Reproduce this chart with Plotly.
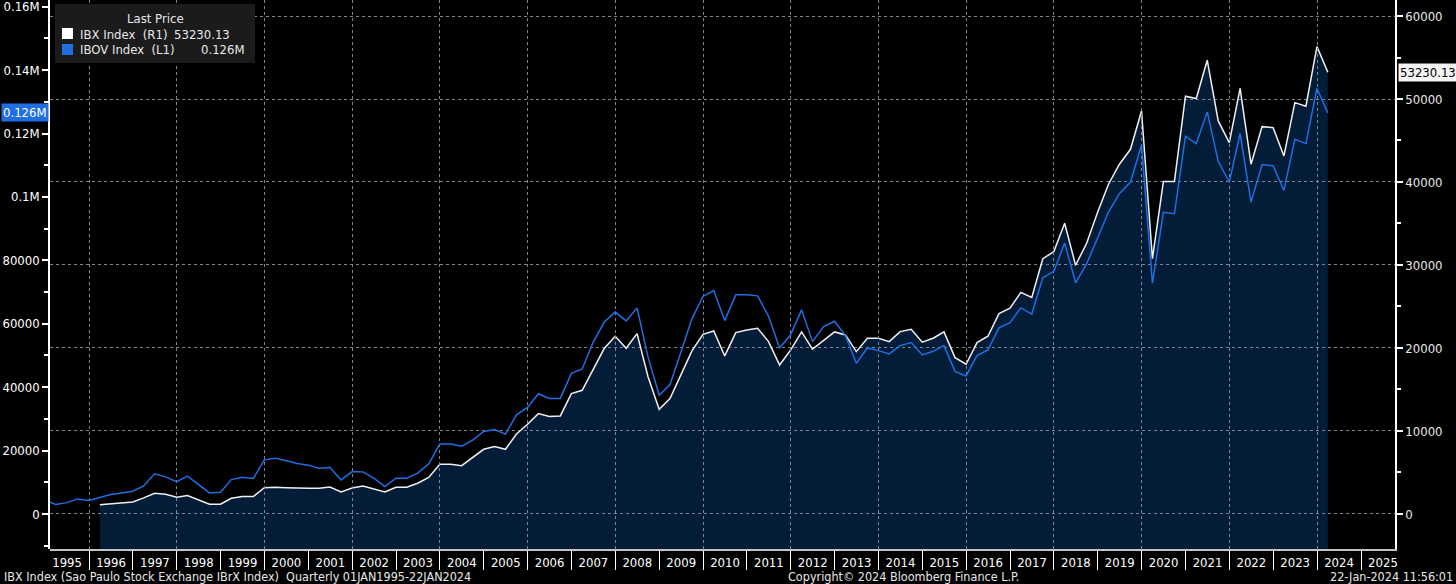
import pandas as pd
import plotly.graph_objects as go

# ---------------- data ----------------
ibov_start_date = ["1995-01-02"]
ibov_values = [
    4350,
    2950, 3570, 4740, 4250,        # 1995
    5150, 6100, 6640, 7170,        # 1996
    8850, 12640, 11690, 10210,     # 1997
    11910, 9260, 6640, 6860,       # 1998
    10840, 11600, 11160, 17060,    # 1999
    17600, 16750, 15900, 15390,    # 2000
    14440, 14630, 10740, 13370,    # 2001
    13270, 11280, 8630, 11280,     # 2002
    11280, 12860, 15800, 22030,    # 2003
    22030, 21390, 23290, 26010,    # 2004
    26640, 25190, 31280, 33590,    # 2005
    37920, 36440, 36440, 44340,    # 2006
    45730, 54130, 60450, 63740,    # 2007
    60890, 65000, 49390, 37510,    # 2008
    40760, 50970, 61530, 68670,    # 2009
    70470, 60990, 69110, 69110,    # 2010
    68790, 62350, 52360, 56500,    # 2011
    64370, 54350, 59090, 60770,    # 2012
    56250, 47500, 52360, 51510,    # 2013
    50470, 53090, 54040, 50150,    # 2014
    51290, 53090, 44970, 43510,    # 2015
    49930, 51730, 58700, 60300,    # 2016
    65000, 63050, 74480, 76520,    # 2017
    85430, 72900, 78900, 87110,    # 2018
    95220, 101010, 104700, 116290, # 2019
    72780, 95120, 94690, 119130,   # 2020
    116820, 126800, 111230, 104700,# 2021
    119990, 98370, 110180, 109760, # 2022
    102070, 118180, 116820, 134200,# 2023
    126500,                        # 2024 (22 Jan)
]
ibx_values = [
    1120, 1240, 1290, 1450,        # 1996
    1930, 2490, 2370, 2010,        # 1997
    2210, 1650, 1170, 1170,        # 1998
    1890, 2090, 2090, 3170,        # 1999
    3220, 3170, 3090, 3090,        # 2000
    3090, 3250, 2650, 3130,        # 2001
    3370, 3050, 2650, 3220,        # 2002
    3230, 3700, 4400, 5990,        # 2003
    5990, 5820, 6790, 7790,        # 2004
    8110, 7790, 9640, 10810,       # 2005
    12090, 11730, 11810, 14500,    # 2006
    14900, 17440, 19930, 21410,    # 2007
    19970, 21730, 16510, 12610,    # 2008
    13900, 16750, 19640, 21650,    # 2009
    22050, 19040, 21850, 22170,    # 2010
    22370, 20760, 17950, 19750,    # 2011
    21930, 19850, 20930, 21930,    # 2012
    21570, 19560, 21170, 21170,    # 2013
    20760, 21970, 22260, 20690,    # 2014
    21170, 21930, 18830, 18040,    # 2015
    20640, 21410, 24140, 24790,    # 2016
    26700, 26100, 30760, 31610,    # 2017
    35030, 29970, 32620, 36390,    # 2018
    39730, 42140, 43940, 48560,    # 2019
    30760, 40050, 40050, 50330,    # 2020
    50050, 54670, 47360, 44740,    # 2021
    51290, 42140, 46670, 46550,    # 2022
    43140, 49560, 49130, 56310,    # 2023
    53230.13,                      # 2024 (22 Jan)
]
left_tick_vals = [0, 20000, 40000, 60000, 80000, 100000, 120000, 140000, 160000]
left_tick_text = ["0", "20000", "40000", "60000", "80000", "0.1M", "0.12M", "0.14M", "0.16M"]
ibx_last_label = "53230.13"
ibov_last_label = "0.126M"

ibov_dates = pd.to_datetime(ibov_start_date).append(
    pd.date_range("1995-03-31", "2024-03-31", freq="QE"))
ibx_dates = pd.date_range("1996-03-31", "2024-03-31", freq="QE")

# ---------------- style ----------------
FONT = "Liberation Sans Narrow, DejaVu Sans Condensed, Arial Narrow, Roboto, sans-serif"
W, H = 1456, 584
ML, MR, MT, MB = 50, 61, 0, 35
PW, PH = W - ML - MR, H - MT - MB
NAVY = "#031c38"
BLUE = "#1f6fe2"
WHITE = "#f0f0f0"
GRID = "#7d8590"
TXT = "#e8e8e8"

X_RANGE = ["1995-02-10", "2025-10-11"]
R_RANGE = [-4225, 61929]      # right axis (IBX)
L_RANGE = [-11060, 162108]    # left axis (IBOV)


def px(x):
    return (x - ML) / PW


def py(y):
    return (MT + PH - y) / PH


fig = go.Figure()

# subplot 1: filled area under IBX down to bottom of the plot
fig.add_trace(go.Scatter(x=ibx_dates, y=[R_RANGE[0]] * len(ibx_dates), mode="lines",
                         line=dict(width=0), hoverinfo="skip", showlegend=False,
                         xaxis="x", yaxis="y"))
fig.add_trace(go.Scatter(x=ibx_dates, y=ibx_values, mode="lines", line=dict(width=0),
                         fill="tonexty", fillcolor=NAVY, hoverinfo="skip",
                         showlegend=False, xaxis="x", yaxis="y"))
# subplot 2: IBX line (right axis)
fig.add_trace(go.Scatter(x=ibx_dates, y=ibx_values, mode="lines", name="IBX Index (R1)",
                         line=dict(color=WHITE, width=1.5), showlegend=False,
                         xaxis="x2", yaxis="y2"))
# subplot 3: IBOV line (left axis)
fig.add_trace(go.Scatter(x=ibov_dates, y=ibov_values, mode="lines", name="IBOV Index (L1)",
                         line=dict(color=BLUE, width=1.5), showlegend=False,
                         xaxis="x3", yaxis="y3"))

hidden = dict(visible=False, showgrid=False, zeroline=False, automargin=False)
fig.update_layout(
    width=W, height=H,
    margin=dict(l=ML, r=MR, t=MT, b=MB, pad=0, autoexpand=False),
    paper_bgcolor="black", plot_bgcolor="rgba(0,0,0,0)",
    font=dict(family=FONT, color=TXT, size=13),
    hovermode=False,
    showlegend=False,
    xaxis=dict(type="date", range=X_RANGE, anchor="y", **hidden),
    yaxis=dict(range=R_RANGE, anchor="x", **hidden),
    xaxis2=dict(type="date", range=X_RANGE, anchor="y2", showgrid=False, zeroline=False,
                automargin=False,
                dtick="M12", tick0="1995-01-01", tickformat="%Y", ticklabelmode="period",
                ticks="outside", ticklen=19, tickwidth=1, tickcolor="white",
                ticklabelstandoff=-19,
                showline=True, linecolor="#c4c4c4", linewidth=2,
                tickfont=dict(size=13, color="white", family=FONT)),
    yaxis2=dict(range=R_RANGE, anchor="x2", side="right", zeroline=False, automargin=False,
                tickmode="linear", tick0=0, dtick=10000, tickformat="d",
                ticklabeloverflow="allow",
                showgrid=True, gridcolor=GRID, griddash="dot", gridwidth=1,
                ticks="outside", ticklen=6, tickwidth=2, tickcolor="white",
                showline=True, linecolor="white", linewidth=1.5,
                minor=dict(dtick=5000, ticks="outside", ticklen=4, tickcolor="white",
                           showgrid=False),
                tickfont=dict(size=13, color=TXT, family=FONT)),
    xaxis3=dict(type="date", range=X_RANGE, anchor="y3", zeroline=False, automargin=False,
                dtick="M24", tick0="1996-01-01", showticklabels=False, ticks="",
                showline=False, showgrid=True, gridcolor=GRID, griddash="dot", gridwidth=1),
    yaxis3=dict(range=L_RANGE, anchor="x3", side="left", zeroline=False, showgrid=False,
                automargin=False, ticklabeloverflow="allow",
                tickmode="array", tickvals=left_tick_vals, ticktext=left_tick_text,
                ticks="outside", ticklen=6, tickwidth=2, tickcolor="white",
                showline=True, linecolor="white", linewidth=1.5,
                minor=dict(tickvals=list(range(-10000, 170000, 10000)), ticks="outside",
                           ticklen=4, tickcolor="white", showgrid=False),
                tickfont=dict(size=13, color="white", family=FONT)),
)

# legend box (manual, Bloomberg style)
shapes = [
    dict(type="rect", xref="paper", yref="paper", x0=px(55), x1=px(255), y0=py(63), y1=py(4),
         fillcolor="#1b1b1b", line=dict(width=0), layer="above"),
    dict(type="rect", xref="paper", yref="paper", x0=px(62), x1=px(73), y0=py(39), y1=py(28),
         fillcolor="white", line=dict(width=0), layer="above"),
    dict(type="rect", xref="paper", yref="paper", x0=px(62), x1=px(73), y0=py(55), y1=py(44),
         fillcolor=BLUE, line=dict(width=0), layer="above"),
]
fig.update_layout(shapes=shapes)

ann = [
    dict(text="Last Price", x=px(155), y=py(19), xanchor="center"),
    dict(text="IBX Index\u00a0\u00a0(R1)", x=px(78), y=py(34), xanchor="left"),
    dict(text=ibx_last_label, x=px(232), y=py(34), xanchor="right"),
    dict(text="IBOV Index\u00a0\u00a0(L1)", x=px(78), y=py(50), xanchor="left"),
    dict(text=ibov_last_label, x=px(247), y=py(50), xanchor="right"),
    dict(text="IBX Index (Sao Paulo Stock Exchange IBrX Index)\u00a0\u00a0Quarterly 01JAN1995-22JAN2024",
         x=px(2), y=py(576), xanchor="left", size=12.5),
    dict(text="Copyright\u00a9 2024 Bloomberg Finance L.P.", x=px(903), y=py(576),
         xanchor="center", size=12.5),
    dict(text="22-Jan-2024 11:56:01", x=px(1455), y=py(576), xanchor="right", size=12.5),
]
for a in ann:
    size = a.pop("size", 13)
    fig.add_annotation(xref="paper", yref="paper", yanchor="middle", showarrow=False,
                       font=dict(family=FONT, size=size, color=TXT), **a)

# last value tags on the axes
fig.add_annotation(xref="paper", yref="y2", x=1, y=ibx_values[-1], xanchor="left",
                   yanchor="middle", xshift=3, showarrow=False, text=ibx_last_label,
                   bgcolor="#f4f4f4", borderpad=1,
                   font=dict(family=FONT, size=13, color="black"))
fig.add_annotation(xref="paper", yref="y3", x=0, y=ibov_values[-1], xanchor="right",
                   yanchor="middle", xshift=-1, showarrow=False, text=ibov_last_label,
                   bgcolor=BLUE, borderpad=1,
                   font=dict(family=FONT, size=13, color="white"))

fig.write_html(
    "out.html",
    config={"displayModeBar": False},
    post_script="document.body.style.margin='0px';document.body.style.background='black';",
)
